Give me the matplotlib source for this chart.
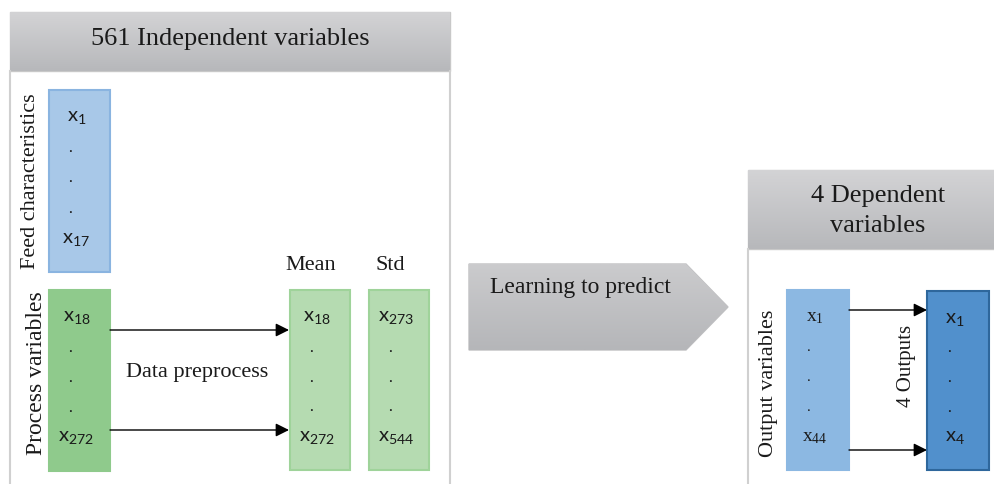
import matplotlib.pyplot as plt
import numpy as np
from matplotlib.patches import Rectangle, Polygon

# --- diagram content ---
left_title = "561 Independent variables"
right_title = "4 Dependent\nvariables"
feed_label = "Feed characteristics"
process_label = "Process variables"
output_label = "Output variables"
outputs_label = "4 Outputs"
preprocess_label = "Data preprocess"
learn_label = "Learning to predict"
col_titles = ["Mean", "Std"]

feed_vars = ["1", "17"]
process_vars = ["18", "272"]
mean_vars = ["18", "272"]
std_vars = ["273", "544"]
output_vars = ["1", "44"]
outputs_vars = ["1", "4"]

SERIF = "Liberation Serif"
SANS = "Lato"
plt.rcParams["mathtext.default"] = "regular"

fig = plt.figure(figsize=(9.94, 4.84), dpi=100)
ax = fig.add_axes([0, 0, 1, 1])
ax.set_xlim(0, 994)
ax.set_ylim(484, 0)
ax.axis("off")


def gradient_patch(patch, top="#d3d3d5", bottom="#b7b8bb"):
    ax.add_patch(patch)
    x0, y0, x1, y1 = patch.get_extents().transformed(ax.transData.inverted()).extents
    c0 = np.array(plt.matplotlib.colors.to_rgb(top))
    c1 = np.array(plt.matplotlib.colors.to_rgb(bottom))
    t = np.linspace(0, 1, 64)[:, None]
    img = (c0 * (1 - t) + c1 * t)[:, None, :]
    im = ax.imshow(img, extent=(min(x0, x1), max(x0, x1), max(y0, y1), min(y0, y1)),
                   aspect="auto", zorder=patch.get_zorder())
    im.set_clip_path(patch)


def var_box(x, y, w, h, names, fc, ec, font, fs=14.5):
    ax.add_patch(Rectangle((x, y), w, h, fc=fc, ec=ec, lw=1.5, zorder=2))
    cx = x + w * 0.45
    ys = np.linspace(y + 28, y + h - 33, 5)
    ax.text(cx, ys[0], "x$_{%s}$" % names[0], ha="center", va="center",
            fontsize=fs, family=font, zorder=3, color="#1a1a1a")
    for yy in ys[1:4]:
        ax.text(cx - 6, yy, ".", ha="center", va="center", fontsize=fs - 3,
                family=font, zorder=3, color="#1a1a1a")
    ax.text(cx, ys[4], "x$_{%s}$" % names[1], ha="center", va="center",
            fontsize=fs, family=font, zorder=3, color="#1a1a1a")


def arrow(x0, x1, y):
    ax.annotate("", xy=(x1, y), xytext=(x0, y),
                arrowprops=dict(arrowstyle="-|>", color="black", lw=1.0,
                                mutation_scale=20, shrinkA=0, shrinkB=0), zorder=4)


# left panel
ax.plot([10, 10], [71, 484], color="#d0d0d0", lw=1.5)
ax.plot([450, 450], [71, 484], color="#d0d0d0", lw=1.5)
gradient_patch(Rectangle((10, 12), 440, 59, fc="none", ec="#c8c8c8", lw=1))
ax.text(230, 39, left_title, ha="center", va="center", fontsize=19,
        family=SERIF, color="#1a1a1a")

ax.text(31, 181, feed_label, rotation=90, ha="center", va="center",
        fontsize=16, family=SERIF, color="#1a1a1a")
var_box(49, 90, 61, 182, feed_vars, "#a8c8e8", "#8ab4e0", SANS)

ax.text(37, 373, process_label, rotation=90, ha="center", va="center",
        fontsize=17, family=SERIF, color="#1a1a1a")
var_box(49, 290, 61, 181, process_vars, "#8fca8c", "#8fca8c", SANS)

arrow(110, 289, 330)
arrow(110, 289, 430)
ax.text(197, 372, preprocess_label, ha="center", va="center", fontsize=16,
        family=SERIF, color="#1a1a1a")

ax.text(311, 265, col_titles[0], ha="center", va="center", fontsize=16,
        family=SERIF, color="#1a1a1a")
ax.text(390, 265, col_titles[1], ha="center", va="center", fontsize=16,
        family=SERIF, color="#1a1a1a")
var_box(290, 290, 60, 180, mean_vars, "#b5dbb1", "#9fd39a", SANS)
var_box(369, 290, 60, 180, std_vars, "#b5dbb1", "#9fd39a", SANS)

# middle arrow shape
gradient_patch(Polygon([(469, 264), (686, 264), (728, 307), (686, 350), (469, 350)],
                       closed=True, fc="none", ec="#c0c0c2", lw=1),
               top="#cbcbcd", bottom="#b5b6b9")
ax.text(580, 288, learn_label, ha="center", va="center", fontsize=17,
        family=SERIF, color="#1a1a1a", zorder=5)

# right panel
ax.plot([748, 748], [249, 484], color="#d0d0d0", lw=1.5)
gradient_patch(Rectangle((748, 170), 250, 79, fc="none", ec="#c8c8c8", lw=1))
ax.text(878, 211, right_title, ha="center", va="center", fontsize=19,
        family=SERIF, color="#1a1a1a", linespacing=1.45)

ax.text(769, 383, output_label, rotation=90, ha="center", va="center",
        fontsize=16, family=SERIF, color="#1a1a1a")
var_box(787, 290, 62, 180, output_vars, "#8cb8e2", "#8cb8e2", SERIF, fs=14)

arrow(849, 927, 310)
arrow(849, 927, 450)
ax.text(906, 366, outputs_label, rotation=90, ha="center", va="center",
        fontsize=15, family=SERIF, color="#1a1a1a", zorder=5)
var_box(927, 291, 62, 179, outputs_vars, "#5190cc", "#2e679c", SANS)

fig.savefig("out.png", dpi=100)
